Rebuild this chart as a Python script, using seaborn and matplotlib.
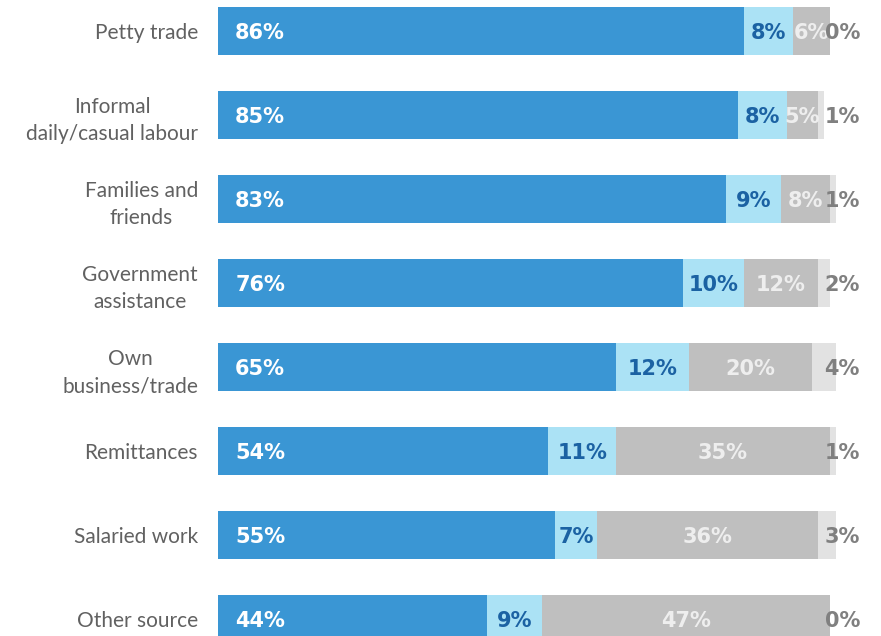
import matplotlib
matplotlib.use("Agg")
import matplotlib.pyplot as plt
import seaborn as sns
import numpy as np
import pandas as pd

# Sources of income and share of respondents per answer group
categories = [
    "Petty trade",
    "Informal\ndaily/casual labour",
    "Families and\nfriends",
    "Government\nassistance",
    "Own\nbusiness/trade",
    "Remittances",
    "Salaried work",
    "Other source",
]
seg1 = [86, 85, 83, 76, 65, 54, 55, 44]
seg2 = [8, 8, 9, 10, 12, 11, 7, 9]
seg3 = [6, 5, 8, 12, 20, 35, 36, 47]
seg4 = [0, 1, 1, 2, 4, 1, 3, 0]

colors = ["#3a96d4", "#abe2f5", "#bfbfbf", "#e2e2e2"]
label_colors = ["white", "#1b62a3", "#eeeeee", "#808080"]

sns.set_theme(style="white")
plt.rcParams["font.family"] = ["DejaVu Sans"]

df = pd.DataFrame({"cat": categories, "s1": seg1, "s2": seg2, "s3": seg3, "s4": seg4})
segs = ["s1", "s2", "s3", "s4"]
cum = df[segs].cumsum(axis=1)

fig = plt.figure(figsize=(8.81, 6.36), dpi=100)
ax = fig.add_axes([218 / 881, 0, 1 - 218 / 881, 1])

# stacked bars: draw running totals from the largest down
for i in reversed(range(4)):
    sns.barplot(x=cum[segs[i]], y=df["cat"], orient="h", color=colors[i],
                width=0.57, linewidth=0, saturation=1, ax=ax)

scale = 612 / 100  # px per percent
ax.set_xlim(0, (881 - 218) / scale)
ax.set_ylim((636 - 31) / 84, -31 / 84)

fs = 15
for r in range(len(categories)):
    vals = [seg1[r], seg2[r], seg3[r], seg4[r]]
    left = 0
    for i, v in enumerate(vals):
        txt = f"{v}%"
        if i == 0:
            x, ha = 2.8, "left"
        elif i in (1, 2):
            x, ha = left + v / 2, "center"
        else:
            x, ha = 102, "center"
        ax.text(x, r, txt, ha=ha, va="center_baseline", color=label_colors[i],
                fontsize=fs, fontweight="bold")
        left += v

ax.set_xlabel("")
ax.set_ylabel("")
ax.set_xticks([])
ax.tick_params(axis="y", length=0, pad=14.4)
for lbl in ax.get_yticklabels():
    lbl.set_fontfamily(["Lato", "DejaVu Sans"])
    lbl.set_fontweight("normal")
    lbl.set_fontsize(15)
    lbl.set_color("#616161")
    lbl.set_multialignment("center")
    lbl.set_linespacing(1.45)
sns.despine(ax=ax, left=True, bottom=True)

fig.savefig("out.png", dpi=100)
